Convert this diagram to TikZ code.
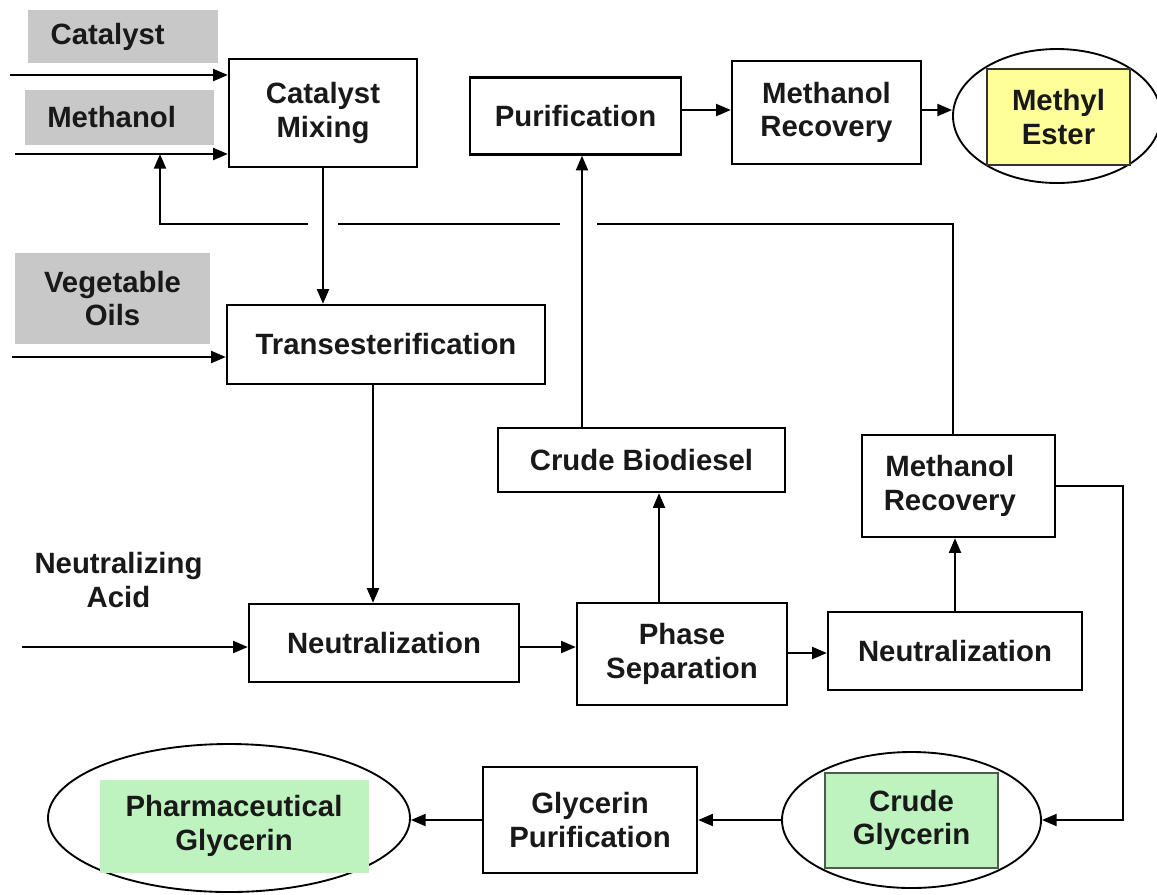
\documentclass[tikz,border=0pt]{standalone}
\usepackage{fontspec}
\setmainfont{Liberation Sans}
\usetikzlibrary{arrows.meta,shapes.geometric}
\definecolor{gfill}{RGB}{200,200,200}
\definecolor{yfill}{RGB}{255,255,153}
\definecolor{grfill}{RGB}{190,242,190}
\definecolor{grline}{RGB}{70,95,70}
\definecolor{txt}{RGB}{25,25,25}
\begin{document}
\begin{tikzpicture}[x=0.75pt,y=-0.75pt,
  lbl/.style={font=\fontsize{22pt}{25pt}\selectfont\bfseries, text=txt, align=center, inner sep=0pt},
  sz/.style 2 args={minimum width=#1*0.75pt, minimum height=#2*0.75pt},
  box/.style={lbl, draw=black, line width=1.8pt, fill=white},
  graybox/.style={lbl, fill=gfill},
  oval/.style={ellipse, draw=black, line width=1.4pt, fill=white, inner sep=0pt},
  arr/.style={draw=black, line width=1.45pt, -{Triangle[length=11pt,width=9pt]}},
  ln/.style={draw=black, line width=1.45pt}
]
\useasboundingbox (0,0) rectangle (1157,894);
\fill[white] (0,0) rectangle (1157,894);

% input boxes
\node[graybox, sz={190}{53}] (gcat) at (123,36.5) {\hspace*{-23pt}Catalyst};
\node[graybox, sz={189}{55}] (gmeth) at (119,117.5) {\hspace*{-11pt}Methanol};
\node[graybox, sz={195}{91}] (gveg) at (112.5,298.5) {Vegetable\\Oils};
\node[lbl] (acid) at (118.5,580) {Neutralizing\\Acid};

% process boxes
\node[box, sz={188}{108}] (mix) at (323,113) {Catalyst\\Mixing};
\node[box, sz={211}{77}] (pur) at (575.5,116) {Purification};
\node[box, sz={189}{103}] (mrtop) at (826.5,112.5) {Methanol\\Recovery};
\node[oval, sz={208}{134}] (ester) at (1057,116) {};
\node[lbl, draw=black!80, line width=1.6pt, fill=yfill, sz={143}{96}] (esterbox) at (1058.5,117) {Methyl\\Ester};
\node[box, sz={318}{79}] (trans) at (386,344.5) {Transesterification};
\node[box, sz={287}{64}] (cbio) at (641.5,460) {Crude Biodiesel};
\node[box, sz={193}{102}] (mrlow) at (958.5,486) {\hspace*{-13pt}Methanol\\\hspace*{-13pt}Recovery};
\node[box, sz={270}{78}] (neutL) at (384,643) {Neutralization};
\node[box, sz={210}{102}] (phase) at (682,654) {Phase\\Separation};
\node[box, sz={254}{78}] (neutR) at (955,651) {Neutralization};
\node[oval, sz={259}{136}] (cglyc) at (911.5,820) {};
\node[lbl, draw=grline, line width=1.6pt, fill=grfill, sz={173}{95}] (cglycbox) at (911.5,820.5) {Crude\\Glycerin};
\node[box, sz={214}{106}] (gpur) at (590,820) {Glycerin\\Purification};
\node[oval, sz={362}{148}] (pharm) at (229,818) {};
\node[lbl, fill=grfill, sz={269}{93}] (pharmbox) at (234,826) {Pharmaceutical\\Glycerin};

% free ends
\coordinate (catin) at (10,75);
\coordinate (methin) at (15,154);
\coordinate (vegin) at (12,357);
\coordinate (acidin) at (22,647);

% inputs
\draw[arr] (catin) -- (catin -| mix.west);
\draw[arr] (methin) -- (methin -| mix.west);
\draw[arr] (vegin) -- (vegin -| trans.west);
\draw[arr] (acidin) -- (acidin -| neutL.west);

% main flow
\draw[arr] (mix.south) -- (mix.south |- trans.north);
\draw[arr] (trans.south -| 373,0) -- (373,0 |- neutL.north);
\draw[arr] (neutL.east |- 0,647) -- (phase.west |- 0,647);
\draw[arr] (phase.north -| 659,0) -- (659,0 |- cbio.south);
\draw[arr] (cbio.north -| 582,0) -- (582,0 |- pur.south);
\draw[arr] (pur.east |- 0,110) -- (mrtop.west |- 0,110);
\draw[arr] (mrtop.east |- 0,110) -- (ester.west |- 0,110);
\draw[arr] (phase.east |- 0,653) -- (neutR.west |- 0,653);
\draw[arr] (neutR.north -| 955,0) -- (955,0 |- mrlow.south);
\coordinate (rb) at (1123,0);
\draw[arr] (mrlow.east |- 0,486) -| (rb |- cglyc.east) -- (cglyc.east);
\draw[arr] (cglyc.west) -- (gpur.east |- cglyc.west);
\draw[arr] (gpur.west |- 0,820) -- (pharm.east |- 0,820);

% methanol recycle with line gaps
\draw[ln] (953,0 |- mrlow.north) -- (953,224) -- (597,224);
\draw[ln] (560,224) -- (338,224);
\draw[arr] (308,224) -- (160,224) -- (160,0 |- methin);
\end{tikzpicture}
\end{document}
